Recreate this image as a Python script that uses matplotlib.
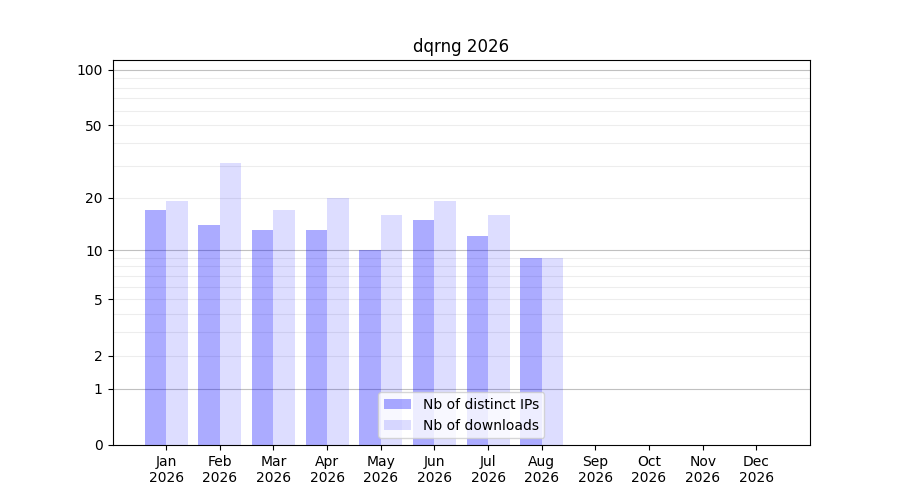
import matplotlib

matplotlib.use("Agg")
import matplotlib.pyplot as plt
import numpy as np

title = "dqrng 2026"
months = ["Jan", "Feb", "Mar", "Apr", "May", "Jun", "Jul", "Aug", "Sep", "Oct", "Nov", "Dec"]
year = "2026"
distinct_ips = [17, 14, 13, 13, 10, 15, 12, 9]
downloads = [19, 31, 17, 20, 16, 19, 16, 9]

y_ticks = [0, 1, 2, 5, 10, 20, 50, 100]
major_grid = [1, 10, 100]
minor_grid = [2, 3, 4, 5, 6, 7, 8, 9, 20, 30, 40, 50, 60, 70, 80, 90]


def forward(y):
    return np.log10(1 + np.asarray(y, dtype=float))


def inverse(y):
    return 10 ** np.asarray(y, dtype=float) - 1


fig, ax = plt.subplots(figsize=(9, 5), dpi=100)
ax.set_yscale("function", functions=(forward, inverse))

# light lines between decades, darker ones on the decades
for v in minor_grid:
    ax.axhline(v, color="#ededed", linewidth=0.8, zorder=0)
for v in major_grid:
    ax.axhline(v, color="#c0c0c0", linewidth=0.8, zorder=0)

x = np.arange(len(distinct_ips))
width = 0.4
ax.bar(x - width / 2, distinct_ips, width, color="blue", alpha=0.33, label="Nb of distinct IPs", zorder=2)
ax.bar(x + width / 2, downloads, width, color="blue", alpha=0.135, label="Nb of downloads", zorder=2)

ax.set_xticks(range(len(months)))
ax.set_xticklabels([f"{m}\n{year}" for m in months])
ax.set_xlim(-1, len(months))

ax.set_ylim(0, 113)
ax.set_yticks(y_ticks)
ax.set_yticklabels([str(t) for t in y_ticks])
ax.minorticks_off()

ax.set_title(title)
ax.legend(loc="lower center")

plt.savefig("out.png", dpi=100)
plt.close()
